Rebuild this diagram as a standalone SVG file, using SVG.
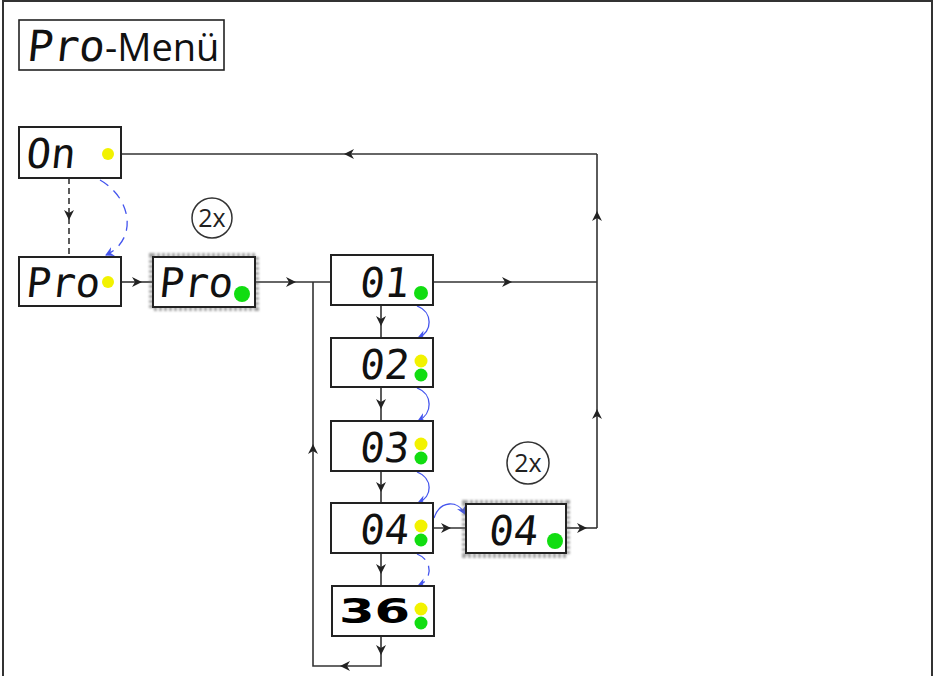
<svg xmlns="http://www.w3.org/2000/svg" width="937" height="676" viewBox="0 0 937 676">
<style>
.frame{fill:none;stroke:#333;stroke-width:2}
.box{fill:#fff;stroke:#222;stroke-width:2}
.halo{fill:none;stroke:#666;stroke-width:6;stroke-dasharray:3 2;opacity:0.6}
.seg{font-family:"DejaVu Sans Mono",monospace;font-size:41px;fill:#111}
.big{font-family:"DejaVu Sans",sans-serif;font-weight:900;font-size:33px;fill:#000}
.lbl{font-family:"Open Sans",sans-serif;font-size:25px;fill:#222}
.ttl{font-family:"Open Sans",sans-serif;font-size:38px;fill:#111}
.ln{fill:none;stroke:#333;stroke-width:1.6}
.dash{stroke-dasharray:6 4}
.blue{fill:none;stroke:#4455ee;stroke-width:1.3;marker-end:url(#bh)}
.bdash{stroke-dasharray:10 7}
.yel{fill:#f2f200}
.grn{fill:#11dd11}
.ah{fill:#222}
.ring{fill:#fff;stroke:#333;stroke-width:1.5}
</style>
<defs>
<path id="ah" d="M-6,-5 L4,0 L-6,5 L-3,0 Z"/>
<marker id="bh" markerWidth="10" markerHeight="10" refX="8" refY="5" orient="auto" markerUnits="userSpaceOnUse">
<path d="M0,0 L9,5 L0,10 L3,5 Z" fill="#4455ee"/>
</marker>
<filter id="fz" x="-20%" y="-20%" width="140%" height="140%"><feGaussianBlur stdDeviation="1"/></filter>
</defs>
<rect class="frame" x="3" y="1" width="929" height="700"/>

<g id="title">
<rect x="19" y="20" width="205" height="50" fill="#fff" stroke="#222" stroke-width="1.6"/>
<text class="seg" style="font-size:43px" transform="translate(26,61) skewX(-6)">Pro</text>
<text x="105" y="61" class="ttl">-Menü</text>
</g>

<g id="connectors">
<path class="ln" d="M121,154 H597"/>
<path class="ln" d="M597,154 V528"/>
<path class="ln" d="M433,282 H597"/>
<path class="ln" d="M566,528 H597"/>
<path class="ln dash" d="M69,178 V257"/>
<path class="ln" d="M121,282 H153"/>
<path class="ln" d="M255,282 H331"/>
<path class="ln" d="M381,305 V338"/>
<path class="ln" d="M381,387 V421"/>
<path class="ln" d="M381,471 V503"/>
<path class="ln" d="M381,553 V586"/>
<path class="ln" d="M381,636 V666 H313 V282"/>
<path class="ln" d="M433,528 H466"/>
<use href="#ah" class="ah" transform="translate(348,154) rotate(180)"/>
<use href="#ah" class="ah" transform="translate(597,215) rotate(-90)"/>
<use href="#ah" class="ah" transform="translate(597,413) rotate(-90)"/>
<use href="#ah" class="ah" transform="translate(508,282)"/>
<use href="#ah" class="ah" transform="translate(583,528)"/>
<use href="#ah" class="ah" transform="translate(69,216) rotate(90)"/>
<use href="#ah" class="ah" transform="translate(138,282)"/>
<use href="#ah" class="ah" transform="translate(292,282)"/>
<use href="#ah" class="ah" transform="translate(381,322) rotate(90)"/>
<use href="#ah" class="ah" transform="translate(381,405) rotate(90)"/>
<use href="#ah" class="ah" transform="translate(381,488) rotate(90)"/>
<use href="#ah" class="ah" transform="translate(381,570) rotate(90)"/>
<use href="#ah" class="ah" transform="translate(381,651) rotate(90)"/>
<use href="#ah" class="ah" transform="translate(344,666) rotate(180)"/>
<use href="#ah" class="ah" transform="translate(313,448) rotate(-90)"/>
<use href="#ah" class="ah" transform="translate(447,528)"/>
<path class="blue bdash" d="M100,180 C132,198 138,240 106,255"/>
<path class="blue" d="M417,306 C433,312 433,332 418,338"/>
<path class="blue" d="M417,388 C433,394 433,414 418,421"/>
<path class="blue" d="M417,472 C433,478 433,497 418,503"/>
<path class="blue bdash" d="M417,554 C433,560 433,580 418,586"/>
<path class="blue" d="M434,518 C440,500 458,500 465,514"/>
</g>

<g id="n-on">
<rect class="box" x="19" y="127" width="102" height="51"/>
<text class="seg" transform="translate(25,168) skewX(-6)">On</text>
<circle class="yel" cx="108" cy="154" r="6"/>
</g>

<g id="n-pro">
<rect class="box" x="19" y="257" width="102" height="49"/>
<text class="seg" transform="translate(25,297) skewX(-6)">Pro</text>
<circle class="yel" cx="108" cy="282" r="6"/>
</g>

<g id="n-pro2">
<rect class="halo" x="152" y="256" width="104" height="52" filter="url(#fz)"/>
<rect class="box" x="153" y="257" width="102" height="50"/>
<text class="seg" transform="translate(158,297) skewX(-6)">Pro</text>
<circle class="grn" cx="242" cy="294" r="8"/>
</g>

<g id="lbl-2x-a">
<circle class="ring" cx="212" cy="218" r="20"/>
<text x="212" y="227" class="lbl" text-anchor="middle">2x</text>
</g>

<g id="n-01">
<rect class="box" x="331" y="255" width="102" height="50"/>
<text class="seg" text-anchor="end" transform="translate(408,297) skewX(-6)">01</text>
<circle class="grn" cx="421" cy="293" r="7"/>
</g>

<g id="n-02">
<rect class="box" x="331" y="338" width="102" height="49"/>
<text class="seg" text-anchor="end" transform="translate(408,379) skewX(-6)">02</text>
<circle class="yel" cx="421" cy="361" r="6.5"/>
<circle class="grn" cx="421" cy="375" r="6.5"/>
</g>

<g id="n-03">
<rect class="box" x="331" y="421" width="102" height="50"/>
<text class="seg" text-anchor="end" transform="translate(408,462) skewX(-6)">03</text>
<circle class="yel" cx="421" cy="444" r="6.5"/>
<circle class="grn" cx="421" cy="458" r="6.5"/>
</g>

<g id="n-04">
<rect class="box" x="331" y="503" width="102" height="50"/>
<text class="seg" text-anchor="end" transform="translate(408,544) skewX(-6)">04</text>
<circle class="yel" cx="421" cy="526" r="6.5"/>
<circle class="grn" cx="421" cy="540" r="6.5"/>
</g>

<g id="n-36">
<rect class="box" x="332" y="586" width="102" height="50"/>
<text x="0" y="0" class="big" transform="translate(339,623) scale(1.55,1)">36</text>
<circle class="yel" cx="421" cy="609" r="6.5"/>
<circle class="grn" cx="421" cy="623" r="6.5"/>
</g>

<g id="n-04b">
<rect class="halo" x="465" y="503" width="102" height="52" filter="url(#fz)"/>
<rect class="box" x="466" y="504" width="100" height="49"/>
<text class="seg" text-anchor="end" transform="translate(537,545) skewX(-6)">04</text>
<circle class="grn" cx="555" cy="541" r="8"/>
</g>

<g id="lbl-2x-b">
<circle class="ring" cx="528" cy="463" r="21"/>
<text x="528" y="472" class="lbl" text-anchor="middle">2x</text>
</g>
</svg>
